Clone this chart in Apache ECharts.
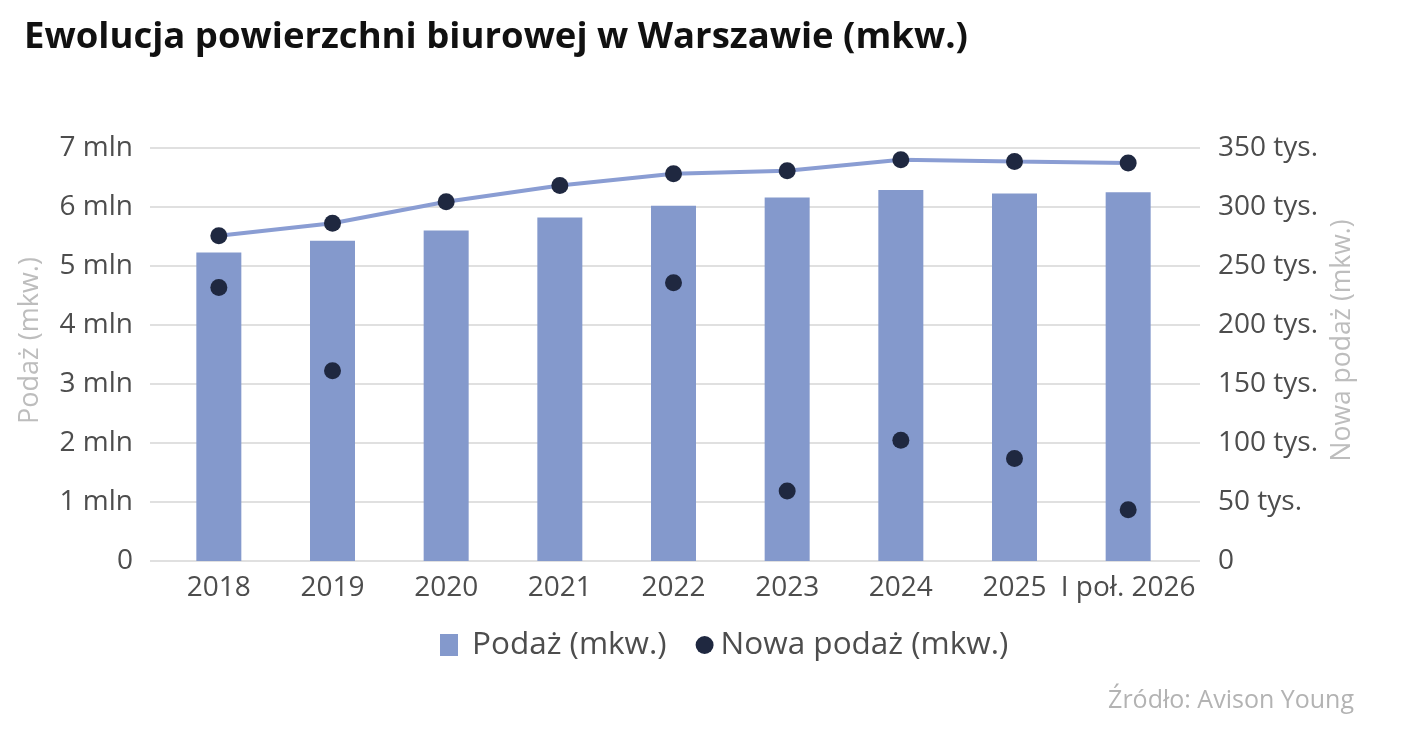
<!DOCTYPE html>
<html>
<head>
<meta charset="utf-8">
<script src="https://cdn.jsdelivr.net/npm/echarts@6/dist/echarts.min.js"></script>
<style>
  html, body { margin: 0; padding: 0; background: #fff; }
  #chart { width: 1408px; height: 736px; }
</style>
</head>
<body>
<div id="chart"></div>
<script>
// dane z wykresu
var years = ['2018', '2019', '2020', '2021', '2022', '2023', '2024', '2025', 'I poł. 2026'];
var podaz = [5.23, 5.43, 5.60, 5.82, 6.02, 6.16, 6.29, 6.23, 6.25];          // mln mkw.
var linia = [275.6, 286.3, 304.4, 318.3, 328.2, 330.7, 340.0, 338.6, 337.3];  // tys. mkw.
var nowaPodaz = [231.7, 161.2, null, null, 235.9, 59.3, 102.4, 86.8, 43.5];   // tys. mkw.
var leftTicks = [0, 7, 1];
var rightTicks = [0, 350, 50];

var chart = echarts.init(document.getElementById('chart'));

var font = 'Open Sans';
var labelColor = '#4d4d4d';
var nameColor = '#bdbdbd';
var gridColor = '#d6d6d6';

var option = {
    animation: false,
    backgroundColor: '#fff',
    textStyle: { fontFamily: font },
    title: [
        {
            text: 'Ewolucja powierzchni biurowej w Warszawie (mkw.)',
            left: 19,
            top: 14,
            textStyle: { fontFamily: font, fontWeight: 'bold', fontSize: 36.5, color: '#111' }
        },
        {
            text: 'Źródło: Avison Young',
            right: 49,
            top: 683,
            textStyle: { fontFamily: font, fontWeight: 'normal', fontSize: 25, color: '#b3b3b3' }
        }
    ],
    legend: {
        left: 440,
        top: 629,
        padding: 0,
        itemWidth: 18,
        itemHeight: 22,
        itemGap: 29,
        textStyle: { fontFamily: font, fontSize: 31.5, color: labelColor },
        data: [
            { name: 'Podaż (mkw.)', icon: 'rect', textStyle: { padding: [0, 0, 0, 9] } },
            { name: 'Nowa podaż (mkw.)', icon: 'circle', textStyle: { padding: [0, 0, 0, 2] } }
        ]
    },
    grid: [
        { left: 162, right: 223, top: 148, bottom: 175 },
        // szersza siatka tylko na linie pomocnicze
        { left: 150, right: 208, top: 148, bottom: 175 }
    ],
    xAxis: [
        {
            type: 'category',
            data: years,
            gridIndex: 0,
            axisLine: { show: false },
            axisTick: { show: false },
            axisLabel: { fontSize: 28, color: labelColor, margin: 13, interval: 0 }
        },
        { type: 'value', gridIndex: 1, min: 0, max: 1, show: false }
    ],
    yAxis: [
        {
            type: 'value',
            gridIndex: 0,
            min: leftTicks[0], max: leftTicks[1], interval: leftTicks[2],
            name: 'Podaż (mkw.)',
            nameLocation: 'middle',
            nameGap: 118,
            nameTextStyle: { fontSize: 27, color: nameColor, padding: [0, 0, 0, 28] },
            splitLine: { show: false },
            axisLabel: {
                fontSize: 28, color: labelColor, margin: 29,
                formatter: function (v) { return v === 0 ? '0' : v + ' mln'; }
            }
        },
        {
            type: 'value',
            gridIndex: 0,
            position: 'right',
            min: rightTicks[0], max: rightTicks[1], interval: rightTicks[2],
            name: 'Nowa podaż (mkw.)',
            nameLocation: 'middle',
            nameGap: 144,
            nameTextStyle: { fontSize: 26.5, color: nameColor, padding: [0, 0, 0, 28] },
            splitLine: { show: false },
            axisLabel: {
                fontSize: 28, color: labelColor, margin: 33,
                formatter: function (v) { return v === 0 ? '0' : v + ' tys.'; }
            }
        },
        {
            type: 'value',
            gridIndex: 1,
            min: leftTicks[0], max: leftTicks[1], interval: leftTicks[2],
            axisLabel: { show: false },
            axisLine: { show: false },
            axisTick: { show: false },
            splitLine: { lineStyle: { color: gridColor, width: 1.5 } }
        }
    ],
    series: [
        {
            name: 'Podaż (mkw.)',
            type: 'bar',
            xAxisIndex: 0,
            yAxisIndex: 0,
            barWidth: 45,
            itemStyle: { color: '#8499cc' },
            data: podaz
        },
        {
            name: 'Podaż łączna',
            type: 'line',
            xAxisIndex: 0,
            yAxisIndex: 1,
            symbol: 'circle',
            symbolSize: 17,
            showSymbol: true,
            lineStyle: { color: '#8a9dd3', width: 4 },
            itemStyle: { color: '#1f2840' },
            data: linia,
            z: 3
        },
        {
            name: 'Nowa podaż (mkw.)',
            type: 'scatter',
            xAxisIndex: 0,
            yAxisIndex: 1,
            symbol: 'circle',
            symbolSize: 17,
            itemStyle: { color: '#1f2840', opacity: 1 },
            data: nowaPodaz,
            z: 4
        }
    ]
};

chart.setOption(option);
</script>
</body>
</html>
